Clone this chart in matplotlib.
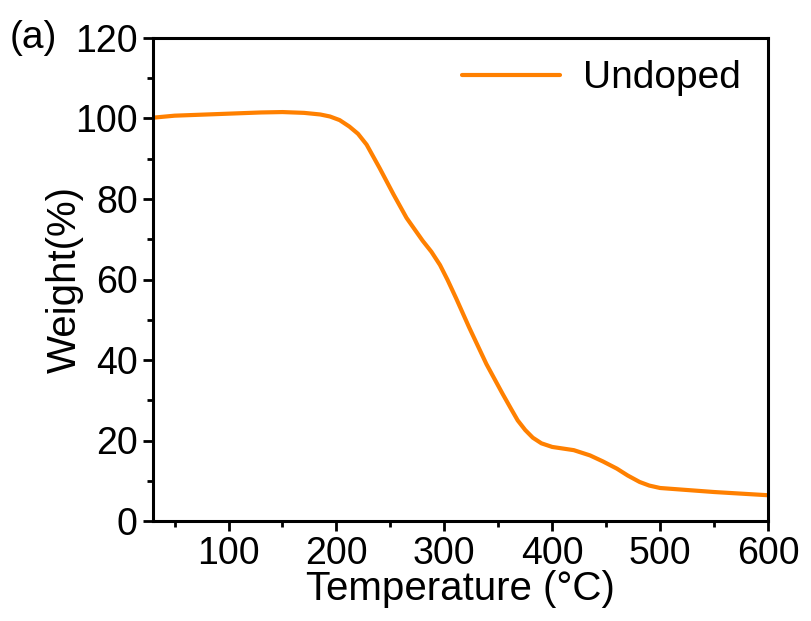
import matplotlib
matplotlib.use("Agg")
import matplotlib.pyplot as plt
from matplotlib.ticker import MultipleLocator

plt.rcParams['font.family'] = ['Liberation Sans', 'DejaVu Sans']

temperature = [30, 50, 70, 90, 110, 130, 150, 170, 185, 194, 203, 212, 220, 228,
               240, 253, 265, 280, 288, 296, 303, 311, 323, 339, 354, 362, 368,
               375, 382, 390, 400, 410, 420, 435, 447, 460, 470, 481, 490, 500,
               520, 550, 575, 600]
weight = [100.2, 100.7, 100.9, 101.1, 101.3, 101.5, 101.6, 101.4, 101.0, 100.5,
          99.6, 98.0, 96.2, 93.5, 87.7, 81.1, 75.3, 69.6, 66.9, 63.6, 59.9,
          55.3, 48.1, 39.0, 31.6, 27.8, 25.0, 22.6, 20.7, 19.3, 18.4, 18.0,
          17.6, 16.3, 14.8, 13.0, 11.3, 9.7, 8.8, 8.2, 7.8, 7.2, 6.8, 6.4]
series_label = "Undoped"
panel_label = "(a)"
x_label = "Temperature (°C)"
y_label = "Weight(%)"

fig = plt.figure(figsize=(8.11, 6.21), dpi=100)
ax = fig.add_axes([153/811, 1-521/621, (768-153)/811, (521-38)/621])

ax.plot(temperature, weight, color='#FF8000', lw=3.0, label=series_label,
        solid_capstyle='round', solid_joinstyle='round')

ax.set_xlim(30, 600)
ax.set_ylim(0, 120)
ax.xaxis.set_major_locator(MultipleLocator(100))
ax.xaxis.set_minor_locator(MultipleLocator(50))
ax.yaxis.set_major_locator(MultipleLocator(20))
ax.yaxis.set_minor_locator(MultipleLocator(10))

for s in ax.spines.values():
    s.set_linewidth(2.2)
ax.tick_params(which='major', direction='out', length=7, width=2.0,
               labelsize=27, pad=4)
ax.tick_params(which='minor', direction='out', length=4, width=2.0)
ax.tick_params(top=False, right=False, which='both')

ax.set_xlabel(x_label, fontsize=29, labelpad=-2)
ax.set_ylabel(y_label, fontsize=29, labelpad=-6)

leg = ax.legend(loc='upper right', frameon=False, fontsize=28,
                handlelength=2.5, handletextpad=0.6,
                bbox_to_anchor=(1.0, 1.01), borderaxespad=0.3)

fig.text(10/811, 1-38/621, panel_label, fontsize=28, va='center', ha='left')

fig.savefig("out.png", dpi=100)
